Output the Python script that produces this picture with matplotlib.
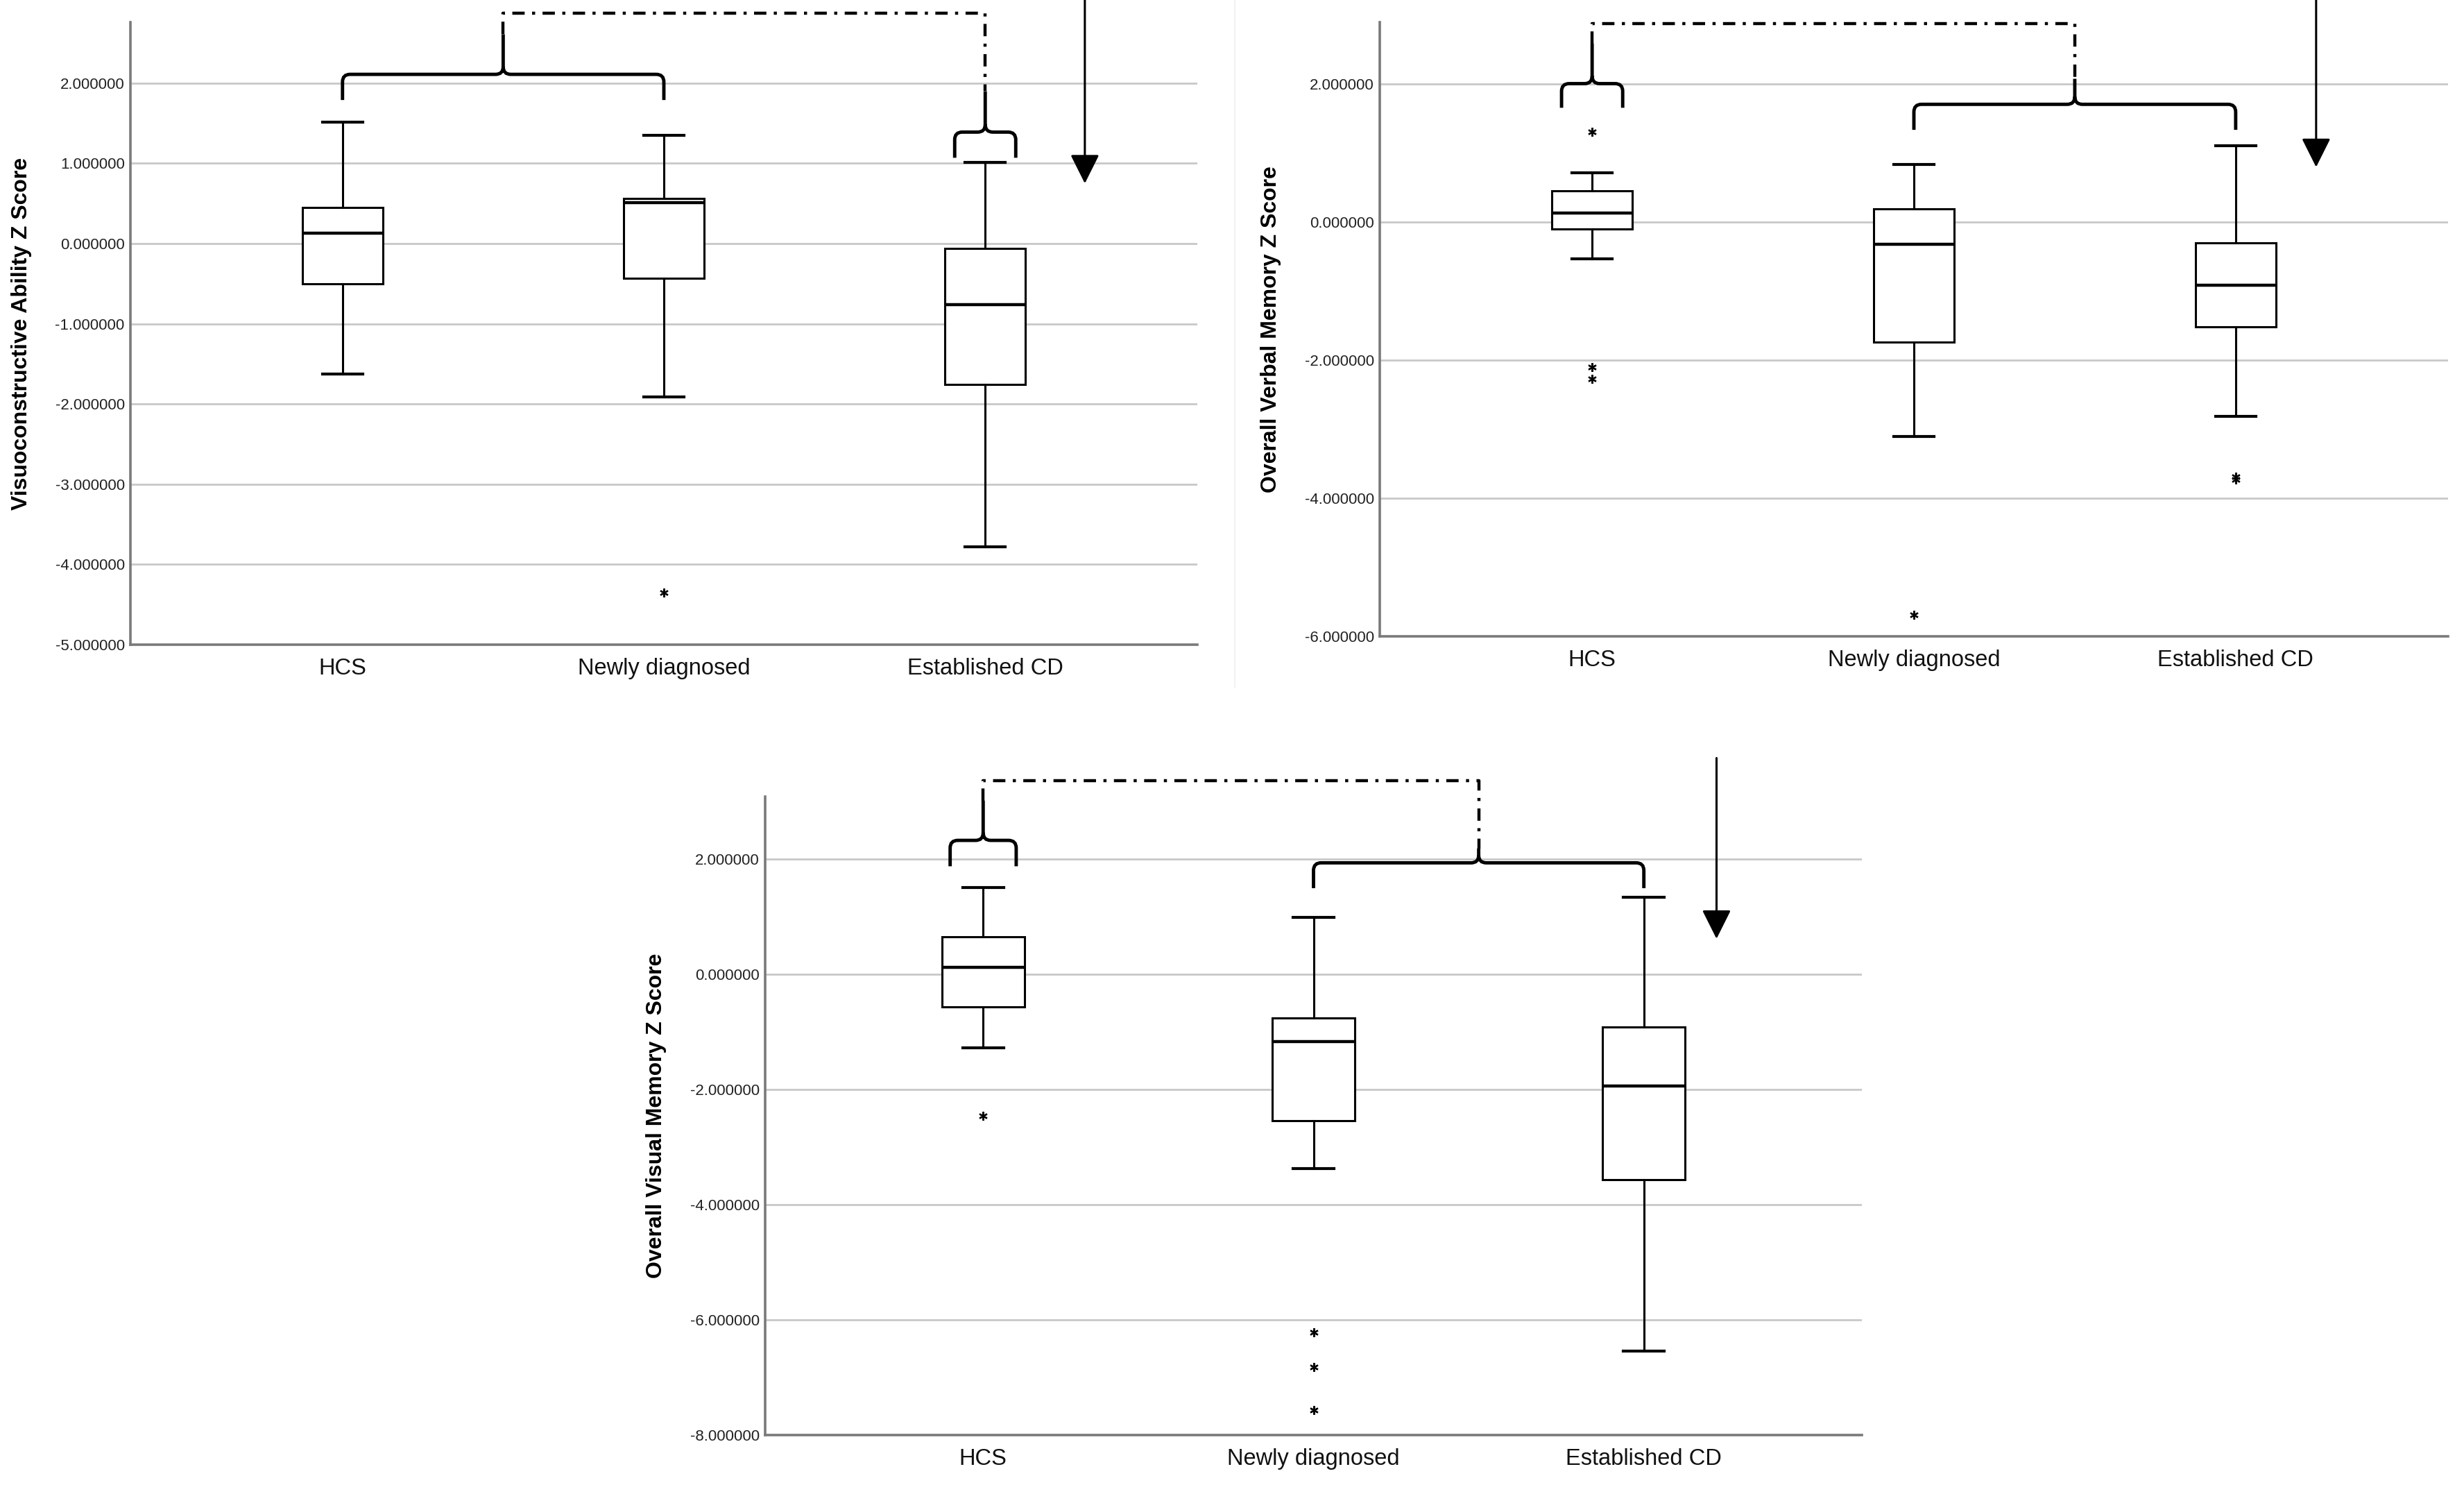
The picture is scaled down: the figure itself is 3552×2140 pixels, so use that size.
import matplotlib
matplotlib.use("Agg")
import matplotlib.pyplot as plt
from matplotlib.path import Path
from matplotlib.patches import PathPatch
from matplotlib.lines import Line2D
from matplotlib.ticker import FormatStrFormatter, MultipleLocator

plt.rcParams['font.family'] = ['Liberation Sans', 'DejaVu Sans']

groups = ["HCS", "Newly diagnosed", "Established CD"]

# Visuoconstructive ability
visuo_whislo = [-1.63, -1.91, -3.78]
visuo_q1 = [-0.50, -0.43, -1.76]
visuo_med = [0.13, 0.51, -0.76]
visuo_q3 = [0.45, 0.56, -0.06]
visuo_whishi = [1.51, 1.35, 1.01]
visuo_fliers = [[], [-4.35], []]

# Overall verbal memory
verbal_whislo = [-0.53, -3.10, -2.81]
verbal_q1 = [-0.10, -1.74, -1.51]
verbal_med = [0.13, -0.32, -0.91]
verbal_q3 = [0.46, 0.19, -0.30]
verbal_whishi = [0.72, 0.84, 1.11]
verbal_fliers = [[1.31, -2.10, -2.27], [-5.69], [-3.69, -3.73]]

# Overall visual memory
visual_whislo = [-1.27, -3.37, -6.54]
visual_q1 = [-0.56, -2.54, -3.57]
visual_med = [0.12, -1.16, -1.94]
visual_q3 = [0.66, -0.75, -0.91]
visual_whishi = [1.51, 0.99, 1.34]
visual_fliers = [[-2.46], [-6.22, -6.82, -7.57], []]

W, H = 3552, 2140
fig = plt.figure(figsize=(W / 100, H / 100), dpi=100)

# faint separator between the two top panels
fig.add_artist(Line2D([1780 / W, 1780 / W], [1.0, 1 - 990 / H], color='#f2f2f2', lw=1.5))


def make_stats(lo, q1, med, q3, hi, fl):
    return [dict(whislo=lo[i], q1=q1[i], med=med[i], q3=q3[i], whishi=hi[i], fliers=fl[i])
            for i in range(len(lo))]


def setup_panel(rect, stats, ylim, step, ylabel):
    ax = fig.add_axes(rect)
    ax.bxp(stats, positions=[1, 2, 3], widths=0.25, capwidths=0.125, patch_artist=True,
           boxprops=dict(facecolor='white', edgecolor='black', linewidth=2.2),
           medianprops=dict(color='black', linewidth=3.2),
           whiskerprops=dict(color='black', linewidth=2.2),
           capprops=dict(color='black', linewidth=3.0),
           flierprops=dict(marker=(6, 2, 0), markersize=9, markeredgewidth=1.6,
                           markeredgecolor='black', linestyle='none'),
           zorder=3)
    ax.set_xlim(0.34, 3.66)
    ax.set_ylim(*ylim)
    ax.yaxis.set_major_locator(MultipleLocator(step))
    ax.yaxis.set_major_formatter(FormatStrFormatter('%.6f'))
    ax.set_xticks([1, 2, 3])
    ax.set_xticklabels(groups)
    ax.grid(axis='y', color='#c8c8c8', linewidth=2.0, zorder=0)
    ax.set_axisbelow(True)
    for s in ['top', 'right']:
        ax.spines[s].set_visible(False)
    for s in ['left', 'bottom']:
        ax.spines[s].set_color('#7a7a7a')
        ax.spines[s].set_linewidth(2.6)
    ax.tick_params(axis='y', length=0, pad=6, labelsize=16, labelcolor='#222222')
    ax.tick_params(axis='x', length=0, pad=14, labelsize=23.5, labelcolor='#111111')
    ax.set_ylabel(ylabel, fontsize=23, fontweight='bold')
    wpx = rect[2] * W
    ax.yaxis.set_label_coords(-142 / wpx, 0.5)
    return ax


def brace(ax, rect, x0, x1, y_h, y_arm, y_tip, lw=3.5):
    sx = (ax.get_xlim()[1] - ax.get_xlim()[0]) / (rect[2] * W)
    sy = (ax.get_ylim()[1] - ax.get_ylim()[0]) / (rect[3] * H)
    cx, cy = 11 * sx, 11 * sy
    xm = (x0 + x1) / 2
    verts = [(x0, y_arm), (x0, y_h - cy), (x0, y_h), (x0 + cx, y_h),
             (xm - cx, y_h), (xm, y_h), (xm, y_h + cy), (xm, y_tip),
             (x1, y_arm), (x1, y_h - cy), (x1, y_h), (x1 - cx, y_h),
             (xm + cx, y_h), (xm, y_h), (xm, y_h + cy)]
    codes = [Path.MOVETO, Path.LINETO, Path.CURVE3, Path.CURVE3,
             Path.LINETO, Path.CURVE3, Path.CURVE3, Path.LINETO,
             Path.MOVETO, Path.LINETO, Path.CURVE3, Path.CURVE3,
             Path.LINETO, Path.CURVE3, Path.CURVE3]
    ax.add_patch(PathPatch(Path(verts, codes), fill=False, lw=lw, edgecolor='black',
                           clip_on=False, zorder=5, joinstyle='miter'))


def link(ax, xa, ya, xb, yb, y_top):
    dd = (0, (4.0, 2.4, 1.0, 2.4))
    ax.plot([xa, xa, xb, xb], [ya, y_top, y_top, yb], color='black', lw=3.2,
            linestyle=dd, clip_on=False, zorder=5)


def arrow(ax, x, y_start, y_tip):
    ax.annotate('', xy=(x, y_tip), xytext=(x, y_start), annotation_clip=False,
                arrowprops=dict(arrowstyle='-|>,head_length=1.3,head_width=0.65',
                                mutation_scale=20, lw=2.2, color='black',
                                shrinkA=0, shrinkB=0))


# Panel 1
r1 = [188 / W, 1 - 929 / H, 1538 / W, 897 / H]
ax1 = setup_panel(r1, make_stats(visuo_whislo, visuo_q1, visuo_med, visuo_q3, visuo_whishi, visuo_fliers),
                  (-5, 2.76), 1, 'Visuoconstructive Ability Z Score')
brace(ax1, r1, 1, 2, 2.11, 1.79, 2.61)
brace(ax1, r1, 2.905, 3.095, 1.39, 1.07, 1.90)
link(ax1, 1.5, 2.61, 3.0, 1.90, 2.87)
arrow(ax1, 3.31, 3.4, 0.75)

# Panel 2
r2 = [1989 / W, 1 - 917 / H, 1540 / W, 885 / H]
ax2 = setup_panel(r2, make_stats(verbal_whislo, verbal_q1, verbal_med, verbal_q3, verbal_whishi, verbal_fliers),
                  (-6, 2.9), 2, 'Overall Verbal Memory Z Score')
brace(ax2, r2, 0.905, 1.095, 2.01, 1.66, 2.59)
brace(ax2, r2, 2, 3, 1.71, 1.34, 2.08)
link(ax2, 1.0, 2.59, 2.5, 2.08, 2.875)
arrow(ax2, 3.25, 3.5, 0.80)

# Panel 3
r3 = [1103 / W, 1 - 2068 / H, 1581 / W, 920 / H]
ax3 = setup_panel(r3, make_stats(visual_whislo, visual_q1, visual_med, visual_q3, visual_whishi, visual_fliers),
                  (-8, 3.09), 2, 'Overall Visual Memory Z Score')
brace(ax3, r3, 0.90, 1.10, 2.33, 1.88, 3.02)
brace(ax3, r3, 2, 3, 1.94, 1.50, 2.19)
link(ax3, 1.0, 3.02, 2.5, 2.19, 3.37)
arrow(ax3, 3.22, 3.76, 0.62)

plt.savefig('out.png', dpi=100)
